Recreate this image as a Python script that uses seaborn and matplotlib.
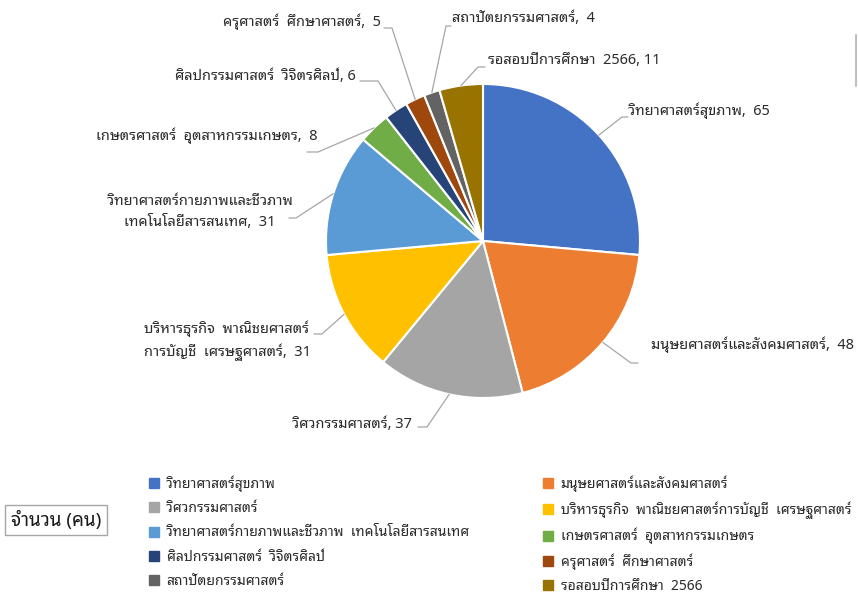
import numpy as np
import matplotlib
matplotlib.use("Agg")
import matplotlib.pyplot as plt
from matplotlib.lines import Line2D
import seaborn as sns

# ข้อมูล
faculties = [
    "วิทยาศาสตร์สุขภาพ",
    "มนุษยศาสตร์และสังคมศาสตร์",
    "วิศวกรรมศาสตร์",
    "บริหารธุรกิจ  พาณิชยศาสตร์การบัญชี  เศรษฐศาสตร์",
    "วิทยาศาสตร์กายภาพและชีวภาพ  เทคโนโลยีสารสนเทศ",
    "เกษตรศาสตร์  อุตสาหกรรมเกษตร",
    "ศิลปกรรมศาสตร์  วิจิตรศิลป์",
    "ครุศาสตร์  ศึกษาศาสตร์",
    "สถาปัตยกรรมศาสตร์",
    "รอสอบปีการศึกษา  2566",
]
pie_labels = [
    "วิทยาศาสตร์สุขภาพ,  65",
    "มนุษยศาสตร์และสังคมศาสตร์,  48",
    "วิศวกรรมศาสตร์, 37",
    "บริหารธุรกิจ  พาณิชยศาสตร์\nการบัญชี  เศรษฐศาสตร์,  31",
    "วิทยาศาสตร์กายภาพและชีวภาพ\nเทคโนโลยีสารสนเทศ,  31",
    "เกษตรศาสตร์  อุตสาหกรรมเกษตร,  8",
    "ศิลปกรรมศาสตร์  วิจิตรศิลป์, 6",
    "ครุศาสตร์  ศึกษาศาสตร์,  5",
    "สถาปัตยกรรมศาสตร์,  4",
    "รอสอบปีการศึกษา  2566, 11",
]
counts = [65, 48, 37, 31, 31, 8, 6, 5, 4, 11]
colors = ["#4472C4", "#ED7D31", "#A5A5A5", "#FFC000", "#5B9BD5",
          "#70AD47", "#264478", "#9E480E", "#636363", "#997300"]

# ตำแหน่งป้าย (พิกเซลจากมุมบนซ้าย): ข้อความ, ปลายเส้น, ปลายหาง
label_xy = [(628, 111, "left"), (651, 345, "left"), (413, 424, "right"),
            (227, 341, "center"), (200, 212, "center"), (318, 136, "right"),
            (356, 76, "right"), (381, 22, "right"), (452, 18, "left"),
            (488, 60, "left")]
elbow_xy = [(622, 117), (631, 363), (427, 427), (322, 334), (296, 218),
            (318, 152), (378, 81), (392, 28), (446, 26), (478, 67)]
tail_xy = [(628, 117), (638, 363), (418, 427), (314, 334), (289, 218),
           (307, 152), (360, 81), (384, 28), (451, 26), (485, 67)]

W, H = 858, 596
sns.set_theme(style="white")
font = ["Noto Sans Thai Looped", "DejaVu Sans"]
plt.rcParams["font.family"] = font
text_col = "#2b2b2b"
fs = 10.5
fs_leg = 10

fig = plt.figure(figsize=(W / 100, H / 100), dpi=100)
ax = fig.add_axes([0, 0, 1, 1])

cx, cy, r = 483, H - 241, 157
wedges, _ = ax.pie(counts, colors=colors, startangle=90, counterclock=False,
                   center=(cx, cy), radius=r, frame=True,
                   wedgeprops=dict(edgecolor="white", linewidth=1.5))
ax.set_xlim(0, W)
ax.set_ylim(0, H)
ax.set_axis_off()

for w, lab, (tx, ty, ha), (ex, ey), (hx, hy) in zip(wedges, pie_labels, label_xy, elbow_xy, tail_xy):
    ang = np.deg2rad((w.theta1 + w.theta2) / 2)
    sx, sy = cx + r * np.cos(ang), cy + r * np.sin(ang)
    ax.plot([sx, ex, hx], [sy, H - ey, H - hy], color="#A6A6A6", lw=0.9)
    ax.text(tx, H - ty, lab, ha=ha, va="center", fontsize=fs, color=text_col,
            multialignment="center", linespacing=1.5)

# คำอธิบายสัญลักษณ์ 2 คอลัมน์
handles = [Line2D([], [], marker="s", ls="", markersize=7, color=c) for c in colors]
for col, x0 in enumerate([143, 537]):
    idx = list(range(col, len(counts), 2))
    leg = fig.legend([handles[i] for i in idx], [faculties[i] for i in idx],
                     loc="upper left", bbox_to_anchor=(x0 / W, 1 - 470 / H),
                     frameon=False, fontsize=fs_leg, handlelength=0.8,
                     handletextpad=0.5, labelspacing=0.66, borderaxespad=0)
    for t in leg.get_texts():
        t.set_color(text_col)

fig.text(56 / W, 1 - 520 / H, "จำนวน (คน)", ha="center", va="center",
         fontsize=13.5, color="#1a1a1a",
         bbox=dict(boxstyle="square,pad=0.3", fc="white", ec="#A6A6A6", lw=1))

ax.plot([856, 856], [H - 35, H - 86], color="#BFBFBF", lw=1.5)

fig.savefig("out.png", dpi=100)
